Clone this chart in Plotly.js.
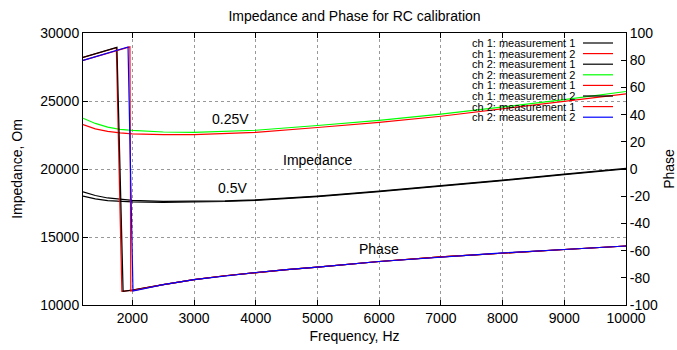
<!DOCTYPE html>
<html>
<head>
<meta charset="utf-8">
<script src="https://cdn.plot.ly/plotly-3.0.1.min.js"></script>
<style>html,body{margin:0;padding:0;background:#fff;}#chart{width:677px;height:350px;}</style>
</head>
<body>
<div id="chart"></div>
<script>
// ---- Impedance data (Ohm) ----
const freqZ = [1200,1400,1600,1800,2000,2500,3000,3500,4000,5000,6000,7000,8000,9000,10000];
const zCh1M1 = [18326,18050,17870,17760,17700,17620,17610,17650,17730,18010,18380,18760,19180,19620,20050];
const zCh1M2 = [23264,22950,22770,22650,22590,22530,22530,22600,22700,23050,23430,23880,24420,24960,25530];
const zCh2M1 = [18009,17800,17680,17620,17590,17550,17560,17610,17700,17970,18340,18720,19150,19590,20000];
const zCh2M2 = [23735,23350,23080,22920,22840,22720,22700,22750,22850,23200,23580,24030,24560,25100,25700];

// ---- Phase data (deg) ----
const freqPCh1M1 = [1200,1300,1400,1500,1600,1700,1740,1830,2000,2500,3000,3500,4000,4500,5000,6000,7000,8000,9000,10000];
const pCh1M1 =     [82.0,83.4,84.8,86.1,87.4,88.6,89.2,-89.9,-89.0,-85.0,-81.3,-78.5,-76.1,-74.0,-72.2,-68.0,-64.6,-61.7,-59.2,-56.6];
const freqPCh1M2 = [1200,1300,1400,1500,1600,1700,1750,1850,2000,2500,3000,3500,4000,4500,5000,6000,7000,8000,9000,10000];
const pCh1M2 =     [82.0,83.4,84.8,86.1,87.4,88.6,89.4,-89.9,-89.0,-85.0,-81.3,-78.5,-76.1,-74.0,-72.2,-68.0,-64.6,-61.7,-59.2,-56.6];
const freqPCh2M1 = [1200,1300,1400,1500,1600,1700,1800,1900,1960,1975,2500,3000,3500,4000,4500,5000,6000,7000,8000,9000,10000];
const pCh2M1 =     [79.8,81.2,82.6,83.9,85.2,86.5,87.9,89.1,89.8,-89.8,-85.0,-81.3,-78.5,-76.1,-74.0,-72.2,-68.0,-64.6,-61.7,-59.2,-56.6];
const freqPCh2M2 = [1200,1300,1400,1500,1600,1700,1800,1930,2010,2500,3000,3500,4000,4500,5000,6000,7000,8000,9000,10000];
const pCh2M2 =     [79.8,81.2,82.6,83.9,85.2,86.5,87.9,89.7,-89.7,-85.0,-81.3,-78.5,-76.1,-74.0,-72.2,-68.0,-64.6,-61.7,-59.2,-56.6];

// ---- Names, colours, tick labels ----
const seriesNames = ["ch 1: measurement 1","ch 1: measurement 2","ch 2: measurement 1","ch 2: measurement 2",
                     "ch 1: measurement 1","ch 1: measurement 2","ch 2: measurement 1","ch 2: measurement 2"];
const seriesColors = ["#000000","#ff0000","#000000","#00ff00","#ff0000","#000000","#ff0000","#0000ff"];
const phaseTickVals = [-100,-80,-60,-40,-20,0,20,40,60,80,100];
const phaseTickText = ["-100","-80","-60","-40","-20","0","20","40","60","80","100"];
const freqTickVals = [2000,3000,4000,5000,6000,7000,8000,9000,10000];
const impTickVals = [10000,15000,20000,25000,30000];
const plotLabels = [
  {text:"0.25V", f:3590, z:23690},
  {text:"Impedance", f:5000, z:20660},
  {text:"0.5V", f:3620, z:18600},
  {text:"Phase", f:6000, z:14140}
];

const FONT = "Liberation Sans, Arial, Helvetica, sans-serif";
const xs = [freqZ,freqZ,freqZ,freqZ,freqPCh1M1,freqPCh1M2,freqPCh2M1,freqPCh2M2];
const ys = [zCh1M1,zCh1M2,zCh2M1,zCh2M2,pCh1M1,pCh1M2,pCh2M1,pCh2M2];

const traces = xs.map((x,i)=>({
  type:"scatter", mode:"lines", x:x, y:ys[i], name:seriesNames[i],
  yaxis: i<4 ? "y" : "y2",
  line:{color:seriesColors[i], width:1.2},
  showlegend:false, hoverinfo:"skip"
}));

// custom legend (text right-aligned, sample line on the right) in paper coords
const plotTop = 33, plotH = 272, plotL = 83, plotW = 543;
const annotations = [];
const shapes = [];
seriesNames.forEach((n,i)=>{
  const py = 43 + i*10.6;
  const yp = 1 - (py-plotTop)/plotH;
  annotations.push({xref:"paper", yref:"paper", x:(577-plotL)/plotW, y:yp, xanchor:"right", yanchor:"middle",
    text:n, showarrow:false, font:{family:FONT, size:11, color:"#000"}});
  shapes.push({type:"line", xref:"paper", yref:"paper", x0:(583-plotL)/plotW, x1:(613-plotL)/plotW, y0:yp, y1:yp,
    line:{color:seriesColors[i], width:1.2}});
});
plotLabels.forEach(l=>{
  annotations.push({xref:"x", yref:"y", x:l.f, y:l.z, text:l.text, showarrow:false,
    xanchor:"center", yanchor:"middle", font:{family:FONT, size:14, color:"#000"}});
});

const layout = {
  width:677, height:350,
  margin:{l:83, r:51, t:33, b:45, pad:0},
  paper_bgcolor:"#fff", plot_bgcolor:"#fff",
  font:{family:FONT, size:14, color:"#000"},
  title:{text:"Impedance and Phase for RC calibration", x:0.5, xref:"paper", xanchor:"center",
         y:1-16/350, yref:"container", yanchor:"middle", font:{family:FONT, size:14, color:"#000"}},
  xaxis:{range:[1200,10000], tickvals:freqTickVals, tickformat:"d",
    ticks:"inside", ticklen:5, tickcolor:"#000", mirror:"ticks", showline:true, linecolor:"#000", linewidth:1,
    showgrid:true, gridcolor:"#999", griddash:"dot", gridwidth:1, zeroline:false,
    tickfont:{family:FONT, size:14, color:"#000"},
    title:{text:"Frequency, Hz", standoff:6, font:{family:FONT, size:14, color:"#000"}}},
  yaxis:{range:[10000,30000], tickvals:impTickVals, tickformat:"d",
    ticks:"inside", ticklen:5, tickcolor:"#000", mirror:true, showline:true, linecolor:"#000", linewidth:1,
    showgrid:true, gridcolor:"#999", griddash:"dot", gridwidth:1, zeroline:false,
    tickfont:{family:FONT, size:14, color:"#000"},
    title:{text:"Impedance, Om", standoff:14, font:{family:FONT, size:14, color:"#000"}}},
  yaxis2:{range:[-100,100], overlaying:"y", side:"right", tickvals:phaseTickVals, ticktext:phaseTickText,
    ticks:"inside", ticklen:5, tickcolor:"#000", showline:true, linecolor:"#000", linewidth:1,
    showgrid:false, zeroline:false,
    tickfont:{family:FONT, size:14, color:"#000"},
    title:{text:"Phase", standoff:10, font:{family:FONT, size:14, color:"#000"}}},
  annotations:annotations,
  shapes:shapes
};

Plotly.newPlot("chart", traces, layout, {staticPlot:true, displayModeBar:false});
</script>
</body>
</html>
